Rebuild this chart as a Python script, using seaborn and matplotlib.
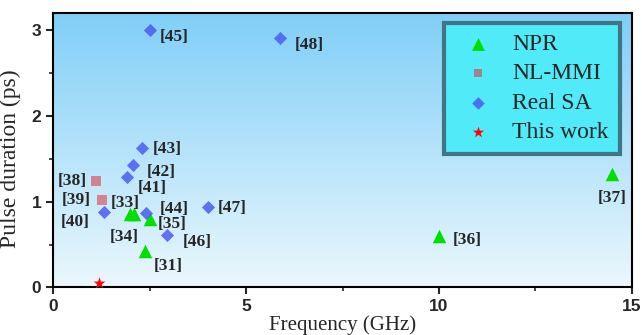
import numpy as np
import pandas as pd
import matplotlib
matplotlib.use("Agg")
import matplotlib.pyplot as plt
from matplotlib.ticker import MultipleLocator
import seaborn as sns

# data
npr_freq = [2.38, 2.0, 2.1, 2.5, 10.0, 14.5]
npr_pulse = [0.43, 0.86, 0.86, 0.80, 0.60, 1.32]
npr_refs = ["[31]", "[33]", "[34]", "[35]", "[36]", "[37]"]

mmi_freq = [1.1, 1.26]
mmi_pulse = [1.24, 1.02]
mmi_refs = ["[38]", "[39]"]

sa_freq = [1.31, 1.9, 2.07, 2.3, 2.4, 2.5, 2.95, 4.0, 5.87]
sa_pulse = [0.88, 1.29, 1.43, 1.63, 0.87, 3.0, 0.61, 0.94, 2.91]
sa_refs = ["[40]", "[41]", "[42]", "[43]", "[44]", "[45]", "[46]", "[47]", "[48]"]

this_freq = [1.19]
this_pulse = [0.05]

groups = ["NPR", "NL-MMI", "Real SA", "This work"]

# label offsets in points (dx, dy, ha)
offsets = {
    "[31]": (6, -11, "left"), "[33]": (-4, 8, "center"), "[34]": (-7, -17, "center"),
    "[35]": (6, -4, "left"), "[36]": (10, -3, "left"), "[37]": (0, -17, "center"),
    "[38]": (-6, 0, "right"), "[39]": (-8, 0, "right"), "[40]": (-10, -7, "right"),
    "[41]": (8, -8, "left"), "[42]": (10, -5, "left"), "[43]": (8, -1, "left"),
    "[44]": (10, 3, "left"), "[45]": (7, -5, "left"), "[46]": (11, -5, "left"),
    "[47]": (7, -1, "left"), "[48]": (11, -5, "left"),
}

df = pd.concat([
    pd.DataFrame({"freq": npr_freq, "pulse": npr_pulse, "ref": npr_refs, "group": "NPR"}),
    pd.DataFrame({"freq": mmi_freq, "pulse": mmi_pulse, "ref": mmi_refs, "group": "NL-MMI"}),
    pd.DataFrame({"freq": sa_freq, "pulse": sa_pulse, "ref": sa_refs, "group": "Real SA"}),
    pd.DataFrame({"freq": this_freq, "pulse": this_pulse, "ref": "", "group": "This work"}),
], ignore_index=True)

sns.set_style("ticks")
plt.rcParams["font.family"] = ["Liberation Serif", "DejaVu Serif"]

fig = plt.figure(figsize=(6.42, 3.35), dpi=100)
ax = fig.add_axes([0.083, 0.142, 0.901, 0.819])

# sky gradient background
grad = np.linspace(0, 1, 256).reshape(-1, 1)
top = np.array([0.50, 0.81, 0.97])
bottom = np.array([0.92, 0.97, 0.99])
img = top + (bottom - top) * grad
ax.imshow(img.reshape(256, 1, 3), extent=[0, 1, 0, 1], transform=ax.transAxes,
          aspect="auto", zorder=0)

styles = {
    "NPR": dict(marker="^", color="#00e000", s=95, alpha=1.0),
    "NL-MMI": dict(marker="s", color="#e0303c", s=45, alpha=0.55),
    "Real SA": dict(marker="D", color="#4a5cf5", s=45, alpha=0.85),
    "This work": dict(marker="*", color="#ff0000", s=80, alpha=1.0),
}
for g in groups:
    st = styles[g]
    sns.scatterplot(data=df[df.group == g], x="freq", y="pulse", ax=ax,
                    marker=st["marker"], color=st["color"], s=st["s"],
                    alpha=st["alpha"], linewidth=0, label=g, zorder=3)

for _, r in df.iterrows():
    if r.ref:
        dx, dy, ha = offsets[r.ref]
        ax.annotate(r.ref, (r.freq, r.pulse), xytext=(dx, dy), textcoords="offset points",
                    ha=ha, va="center", fontsize=12.5, fontweight="bold", zorder=4)

ax.set_xlim(0, 15)
ax.set_ylim(0, 3.2)
ax.xaxis.set_major_locator(MultipleLocator(5))
ax.xaxis.set_minor_locator(MultipleLocator(2.5))
ax.yaxis.set_major_locator(MultipleLocator(1))
ax.yaxis.set_minor_locator(MultipleLocator(0.5))
ax.tick_params(which="major", length=5, width=1.5, direction="out")
ax.tick_params(which="minor", length=3, width=1.2, direction="out")
for lab in ax.get_xticklabels() + ax.get_yticklabels():
    lab.set_fontfamily("Liberation Sans")
    lab.set_fontweight("bold")
    lab.set_fontsize(12.5)
for sp in ax.spines.values():
    sp.set_linewidth(1.5)
    sp.set_color("black")

ax.set_xlabel("Frequency (GHz)", fontsize=15, labelpad=1)
ax.set_ylabel("Pulse duration (ps)", fontsize=17, labelpad=3)
ax.yaxis.set_label_coords(-0.055, 0.47)

leg = ax.legend(loc="upper right", bbox_to_anchor=(0.979, 0.964), borderaxespad=0,
                fontsize=17, frameon=True, fancybox=False, labelspacing=0.33,
                handlelength=2.0, handletextpad=0.45, borderpad=0.45, markerscale=0.95)
leg.get_frame().set_facecolor("#50eaf8")
leg.get_frame().set_edgecolor("#3f7585")
leg.get_frame().set_linewidth(3)
leg.get_frame().set_alpha(1)

fig.savefig("out.png", dpi=100)
